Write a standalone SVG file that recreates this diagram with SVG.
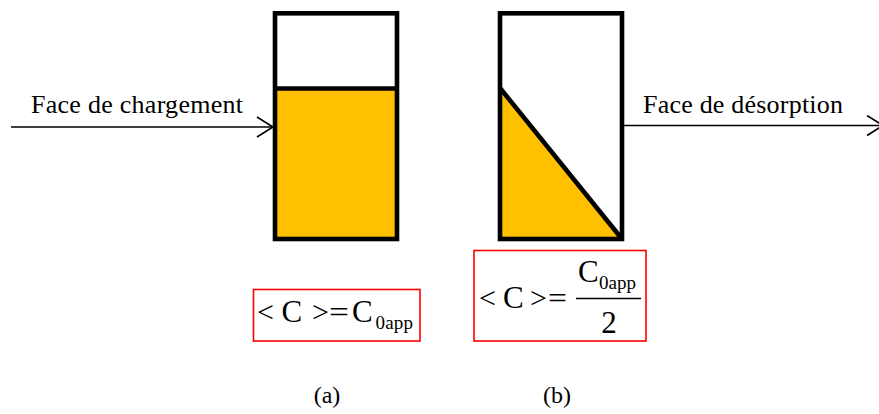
<svg xmlns="http://www.w3.org/2000/svg" width="879" height="414" viewBox="0 0 879 414">
<defs>
<style>
.t{font-family:"Liberation Serif","Times New Roman",serif;fill:#000}
.lbl{font-size:26px}
.big{font-size:31px}
.sym{font-size:30px}
.sub{font-size:19px}
.cap{font-size:24px}
.box{fill:none;stroke:#000;stroke-width:4.6;stroke-linejoin:miter}
.fill{fill:#FFC000;stroke:none}
.frame{fill:#fff;stroke:#FF0000;stroke-width:1.6}
.conn{stroke:#000;stroke-width:1.6;fill:none}
</style>
<marker id="arr" markerWidth="20" markerHeight="24" refX="17" refY="11" orient="auto" markerUnits="userSpaceOnUse">
<path d="M1,1 L17,11 L1,21" fill="none" stroke="#000" stroke-width="1.6"/>
</marker>
</defs>
<rect width="879" height="414" fill="#fff"/>

<g id="connectors">
<line class="conn" x1="11" y1="127" x2="273" y2="127" marker-end="url(#arr)"/>
<line class="conn" x1="624" y1="125.5" x2="883" y2="125.5" marker-end="url(#arr)"/>
</g>

<g id="label-charge">
<text class="t lbl" x="31" y="113" textLength="212">Face de chargement</text>
</g>
<g id="label-desorption">
<text class="t lbl" x="643" y="113" textLength="200">Face de désorption</text>
</g>

<g id="column-a">
<rect class="fill" x="275" y="88.5" width="122" height="150.5"/>
<rect class="box" x="275" y="13.3" width="122" height="225.7"/>
<line class="box" x1="275" y1="88.5" x2="397" y2="88.5"/>
</g>

<g id="column-b">
<polygon class="fill" points="500,88 500,239 622,239"/>
<rect class="box" x="500" y="13.3" width="122" height="225.7"/>
<line class="box" x1="500" y1="88" x2="622" y2="239"/>
</g>

<g id="formula-a">
<rect class="frame" x="253.5" y="289.5" width="166.5" height="51.5"/>
<text class="t sym" x="257" y="322">&lt;</text>
<text class="t big" x="281.5" y="322">C</text>
<text class="t sym" x="312" y="322">&gt;</text>
<text class="t sym" x="329" y="322" textLength="20" lengthAdjust="spacingAndGlyphs">=</text>
<text class="t big" x="352" y="322">C</text>
<text class="t sub" x="375.5" y="328.5" textLength="37.5">0app</text>
</g>

<g id="formula-b">
<rect class="frame" x="474" y="250.5" width="172" height="90.5"/>
<text class="t sym" x="479" y="308">&lt;</text>
<text class="t big" x="503" y="308">C</text>
<text class="t sym" x="530" y="308">&gt;</text>
<text class="t sym" x="548" y="308" textLength="19" lengthAdjust="spacingAndGlyphs">=</text>
<text class="t big" x="578" y="282">C</text>
<text class="t sub" x="599" y="288.5" textLength="37">0app</text>
<line x1="576" y1="298.5" x2="641" y2="298.5" stroke="#000" stroke-width="1.6"/>
<text class="t big" x="609" y="332.5" text-anchor="middle">2</text>
</g>

<g id="caption-a">
<text class="t cap" x="327" y="403" text-anchor="middle">(a)</text>
</g>
<g id="caption-b">
<text class="t cap" x="557" y="403" text-anchor="middle">(b)</text>
</g>
</svg>
